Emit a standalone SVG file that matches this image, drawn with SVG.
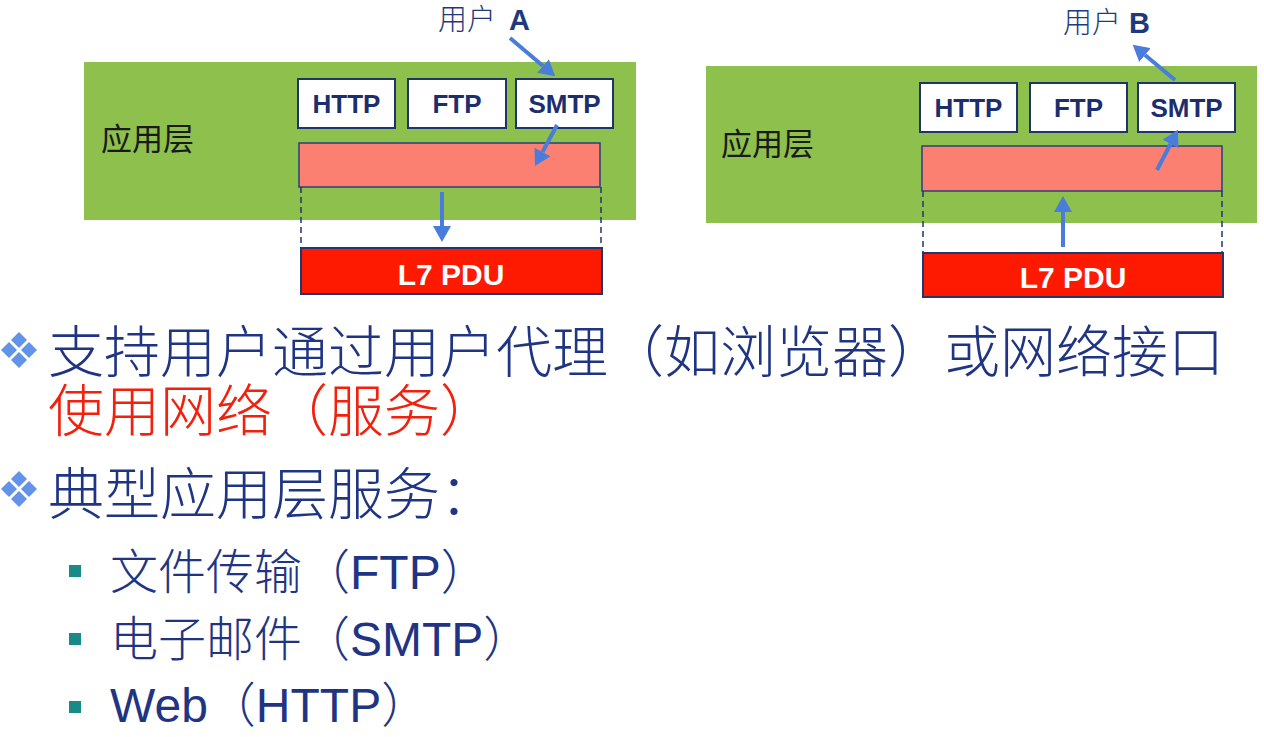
<svg xmlns="http://www.w3.org/2000/svg" width="1264" height="737" viewBox="0 0 1264 737">
  <style>
    .layer { fill: #8dc04c; }
    .proto { fill: #ffffff; stroke: #1f3567; stroke-width: 2; }
    .buf { fill: #fb8072; stroke: #2b3f7a; stroke-width: 1.5; }
    .pdu { fill: #fe1a00; stroke: #23356f; stroke-width: 2; }
    .guide { stroke: #23356f; stroke-width: 1.5; stroke-dasharray: 6 4; fill: none; }
    .arrow { stroke: #4a7cdc; stroke-width: 4; fill: none; marker-end: url(#head); }
    .plabel { font-family: "Liberation Sans", Arial, sans-serif; font-weight: bold; font-size: 26px; fill: #1c2e6e; text-anchor: middle; }
    .pdutxt { font-family: "Liberation Sans", Arial, sans-serif; font-weight: bold; font-size: 30px; fill: #ffffff; text-anchor: middle; }
    .layername { font-family: "Noto Sans CJK SC", sans-serif; font-size: 31px; fill: #1a1a1a; }
    .user { font-family: "Liberation Sans", "Noto Sans CJK SC", sans-serif; font-size: 29px; font-weight: 300; fill: #1f3a7a; }
    .user .tag { font-weight: bold; }
    .main { font-family: "Liberation Sans", "Noto Sans CJK SC", sans-serif; font-size: 56px; font-weight: 300; fill: #1f3584; }
    .hl { fill: #f2200c; }
    .sub { font-family: "Liberation Sans", "Noto Sans CJK SC", sans-serif; font-size: 48px; font-weight: 300; fill: #1f3584; }
    .dia { fill: #6293e8; }
    .sq { fill: #188a8a; }
  </style>
  <defs>
    <marker id="head" markerUnits="userSpaceOnUse" markerWidth="16" markerHeight="18" viewBox="0 0 16 18" refX="0" refY="9" orient="auto">
      <path d="M0,0 L16,9 L0,18 z" fill="#4a7cdc"/>
    </marker>
    <g id="bullet">
      <path class="dia" d="M0,-18 L8,-10 L0,-2 L-8,-10 z"/>
      <path class="dia" d="M0,2 L8,10 L0,18 L-8,10 z"/>
      <path class="dia" d="M-10,-8 L-2,0 L-10,8 L-18,0 z"/>
      <path class="dia" d="M10,-8 L18,0 L10,8 L2,0 z"/>
    </g>
  </defs>

  <!-- sender side -->
  <g id="sender-layer">
    <rect class="layer" x="84" y="62" width="552" height="158"/>
    <text class="layername" x="101" y="150">应用层</text>
  </g>
  <g id="sender-http">
    <rect class="proto" x="298" y="79" width="97" height="49"/>
    <text class="plabel" x="346.5" y="113">HTTP</text>
  </g>
  <g id="sender-ftp">
    <rect class="proto" x="408" y="79" width="98" height="49"/>
    <text class="plabel" x="457" y="113">FTP</text>
  </g>
  <g id="sender-smtp">
    <rect class="proto" x="516" y="79" width="97" height="49"/>
    <text class="plabel" x="564.5" y="113">SMTP</text>
  </g>
  <g id="sender-buffer">
    <rect class="buf" x="299" y="143" width="301" height="44"/>
  </g>
  <g id="sender-pdu">
    <rect class="pdu" x="301" y="248" width="301" height="46"/>
    <text class="pdutxt" x="451" y="285">L7 PDU</text>
  </g>
  <g id="user-a">
    <text class="user" x="438" y="30">用户 <tspan class="tag" x="509">A</tspan></text>
  </g>

  <!-- receiver side -->
  <g id="receiver-layer">
    <rect class="layer" x="706" y="66" width="551" height="157"/>
    <text class="layername" x="721" y="155">应用层</text>
  </g>
  <g id="receiver-http">
    <rect class="proto" x="920" y="83" width="97" height="49"/>
    <text class="plabel" x="968.5" y="117">HTTP</text>
  </g>
  <g id="receiver-ftp">
    <rect class="proto" x="1030" y="83" width="97" height="49"/>
    <text class="plabel" x="1078.5" y="117">FTP</text>
  </g>
  <g id="receiver-smtp">
    <rect class="proto" x="1138" y="83" width="97" height="49"/>
    <text class="plabel" x="1186.5" y="117">SMTP</text>
  </g>
  <g id="receiver-buffer">
    <rect class="buf" x="922" y="146" width="300" height="45"/>
  </g>
  <g id="receiver-pdu">
    <rect class="pdu" x="923" y="253" width="300" height="44"/>
    <text class="pdutxt" x="1073" y="288">L7 PDU</text>
  </g>
  <g id="user-b">
    <text class="user" x="1063" y="33">用户<tspan class="tag" x="1129">B</tspan></text>
  </g>

  <!-- connectors -->
  <g id="connectors">
    <line class="guide" x1="301" y1="187" x2="301" y2="248"/>
    <line class="guide" x1="601" y1="187" x2="601" y2="248"/>
    <line class="guide" x1="923" y1="191" x2="923" y2="253"/>
    <line class="guide" x1="1222" y1="191" x2="1222" y2="253"/>
    <line class="arrow" x1="510" y1="38" x2="543" y2="66"/>
    <line class="arrow" x1="557" y1="125" x2="542.5" y2="152"/>
    <line class="arrow" x1="442" y1="192" x2="442" y2="226"/>
    <line class="arrow" x1="1063" y1="247" x2="1063" y2="212"/>
    <line class="arrow" x1="1157" y1="170" x2="1170.5" y2="144"/>
    <line class="arrow" x1="1175" y1="80" x2="1145" y2="55"/>
  </g>

  <!-- bullet text -->
  <g id="points">
    <use href="#bullet" x="19" y="350"/>
    <text class="main" x="48" y="372">支持用户通过用户代理（如浏览器）或网络接口</text>
    <text class="main hl" x="48" y="431">使用网络（服务）</text>
    <use href="#bullet" x="19" y="489"/>
    <text class="main" x="48" y="514">典型应用层服务：</text>
    <rect class="sq" x="69" y="565" width="12" height="12"/>
    <text class="sub" x="110" y="589">文件传输（FTP）</text>
    <rect class="sq" x="69" y="633" width="12" height="12"/>
    <text class="sub" x="110" y="656">电子邮件（SMTP）</text>
    <rect class="sq" x="69" y="701" width="12" height="12"/>
    <text class="sub" x="110" y="722">Web（HTTP）</text>
  </g>
</svg>
